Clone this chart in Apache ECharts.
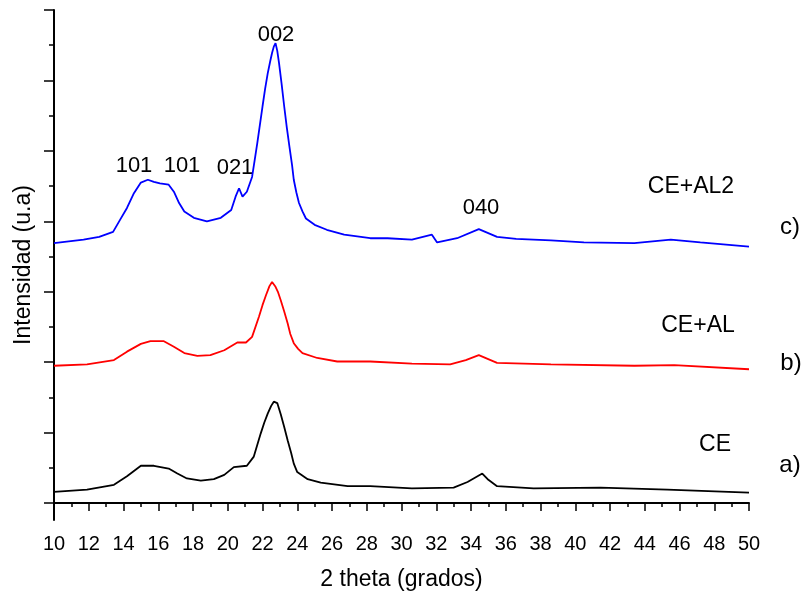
<!DOCTYPE html>
<html>
<head>
<meta charset="utf-8">
<title>DRX</title>
<script src="https://cdn.jsdelivr.net/npm/echarts@6/dist/echarts.min.js"></script>
<style>
  html, body { margin: 0; padding: 0; background: #fff; }
  #main { width: 805px; height: 599px; }
</style>
</head>
<body>
<div id="main"></div>
<script>
// 2 theta (grados) / intensidad
const ceAl2X = [10, 11.7, 12.6, 13.4, 13.8, 14.2, 14.6, 15.0, 15.4, 15.75, 16.1, 16.6, 16.9, 17.2, 17.5, 18.05, 18.8, 19.6, 20.2, 20.45, 20.65, 20.85, 21.1, 21.4, 21.55, 21.7, 21.85, 22.0, 22.15, 22.3, 22.45, 22.55, 22.65, 22.75, 22.85, 22.95, 23.1, 23.25, 23.4, 23.55, 23.7, 23.8, 23.95, 24.1, 24.3, 24.5, 25.0, 25.7, 26.7, 28.2, 29.2, 30.6, 31.75, 32.05, 33.2, 34.45, 35.5, 36.6, 38.6, 40.5, 43.4, 45.5, 47.2, 50]
const ceAl2Y = [369, 374, 378, 385, 402, 419, 440, 455, 459, 456, 454, 452, 442, 426, 414, 405, 400, 405, 416, 435, 447, 435, 442, 463, 487, 511, 537, 563, 588, 610, 628, 639, 648, 653, 642, 625, 595, 563, 533, 506, 480, 459, 441, 426, 414, 404, 395, 388, 381, 376, 376, 374, 381, 370, 376, 389, 378, 375, 373, 370, 369, 374, 370, 364]

const ceAlX = [10, 11.9, 13.45, 14.2, 15.0, 15.55, 16.3, 16.9, 17.5, 18.25, 19.0, 19.8, 20.55, 21.05, 21.4, 21.8, 22.0, 22.2, 22.4, 22.55, 22.75, 22.9, 23.05, 23.25, 23.45, 23.6, 23.8, 24.05, 24.3, 25.15, 26.3, 28.2, 30.6, 32.8, 33.7, 34.45, 35.5, 38.6, 43.4, 45.7, 50]
const ceAlY = [195, 197, 203, 215, 226, 230, 230, 222, 213, 209, 210, 217, 228, 228, 236, 265, 281, 295, 308, 314, 307, 299, 288, 272, 255, 240, 227, 219, 213, 206, 201, 201, 198, 197, 203, 210, 199, 197, 195, 196, 190]

const ceX = [10, 11.9, 13.45, 14.2, 15.0, 15.75, 16.6, 17.1, 17.65, 18.45, 19.2, 19.8, 20.35, 21.1, 21.5, 21.9, 22.1, 22.3, 22.5, 22.65, 22.85, 23.05, 23.25, 23.45, 23.65, 23.8, 24.0, 24.6, 25.35, 26.9, 28.2, 30.6, 33.0, 33.8, 34.65, 35.0, 35.5, 37.6, 41.45, 45.3, 50]
const ceY = [16, 19, 26, 38, 53, 53, 49, 42, 35, 32, 34, 40, 51, 53, 66, 99, 114, 127, 138, 144, 142, 126, 108, 89, 71, 56, 44, 34, 29, 24, 24, 21, 22, 30, 42, 33, 24, 21, 22, 19, 15]

// marcas del eje y (sin etiquetas)
const yMajorTicks = [0, 100, 200, 300, 400, 500, 600, 700]
const yMinorTicks = [50, 150, 250, 350, 450, 550, 650]

const font = "'Liberation Sans', Arial, sans-serif"

function pairs (xs, ys) {
  return xs.map((x, i) => [x, ys[i]])
}

function lineSeries (name, xs, ys, color) {
  return {
    name: name,
    type: 'line',
    data: pairs(xs, ys),
    showSymbol: false,
    smooth: false,
    lineStyle: { color: color, width: 1.8 },
    silent: true
  }
}

function txt (text, x, y, size) {
  return {
    type: 'text',
    x: x,
    y: y,
    style: {
      text: text,
      font: size + 'px ' + font,
      fill: '#000',
      align: 'center',
      verticalAlign: 'middle'
    }
  }
}

const chart = echarts.init(document.getElementById('main'))
chart.setOption({
  animation: false,
  backgroundColor: '#fff',
  grid: { left: 54, right: 56, top: 10, bottom: 79 },
  xAxis: {
    type: 'value',
    min: 10,
    max: 50,
    interval: 2,
    name: '2 theta (grados)',
    nameLocation: 'middle',
    nameGap: 48,
    nameTextStyle: { fontFamily: font, fontSize: 23, color: '#000' },
    axisLine: { lineStyle: { color: '#000', width: 2 } },
    axisTick: { length: 8, lineStyle: { color: '#000', width: 1.5 } },
    minorTick: { show: true, splitNumber: 2, length: 4, lineStyle: { color: '#000', width: 1.5 } },
    axisLabel: { fontFamily: font, fontSize: 20, color: '#000', margin: 14 },
    splitLine: { show: false }
  },
  yAxis: [
    {
      type: 'value',
      min: -24,
      max: 700,
      name: 'Intensidad (u.a)',
      nameLocation: 'middle',
      nameGap: 19,
      nameTextStyle: { fontFamily: font, fontSize: 23, color: '#000' },
      axisLine: { show: true, lineStyle: { color: '#000', width: 2 } },
      axisTick: { show: true, length: 10, customValues: yMajorTicks, lineStyle: { color: '#000', width: 1.5 } },
      axisLabel: { show: false },
      splitLine: { show: false }
    },
    {
      // solo para las marcas menores
      type: 'value',
      min: -24,
      max: 700,
      position: 'left',
      axisLine: { show: false },
      axisTick: { show: true, length: 5, customValues: yMinorTicks, lineStyle: { color: '#000', width: 1.5 } },
      axisLabel: { show: false },
      splitLine: { show: false }
    }
  ],
  series: [
    lineSeries('CE', ceX, ceY, '#000000'),
    lineSeries('CE+AL', ceAlX, ceAlY, '#ff0000'),
    lineSeries('CE+AL2', ceAl2X, ceAl2Y, '#0000ff')
  ],
  graphic: [
    txt('101', 134, 166, 22),
    txt('101', 182, 166, 22),
    txt('021', 235, 168, 22),
    txt('002', 276, 35, 22),
    txt('040', 481, 208, 22),
    txt('CE+AL2', 691, 187, 23),
    txt('CE+AL', 698, 326, 23),
    txt('CE', 715, 445, 23),
    txt('c)', 790, 227, 24),
    txt('b)', 791, 363, 24),
    txt('a)', 790, 465, 24)
  ]
})
</script>
</body>
</html>
